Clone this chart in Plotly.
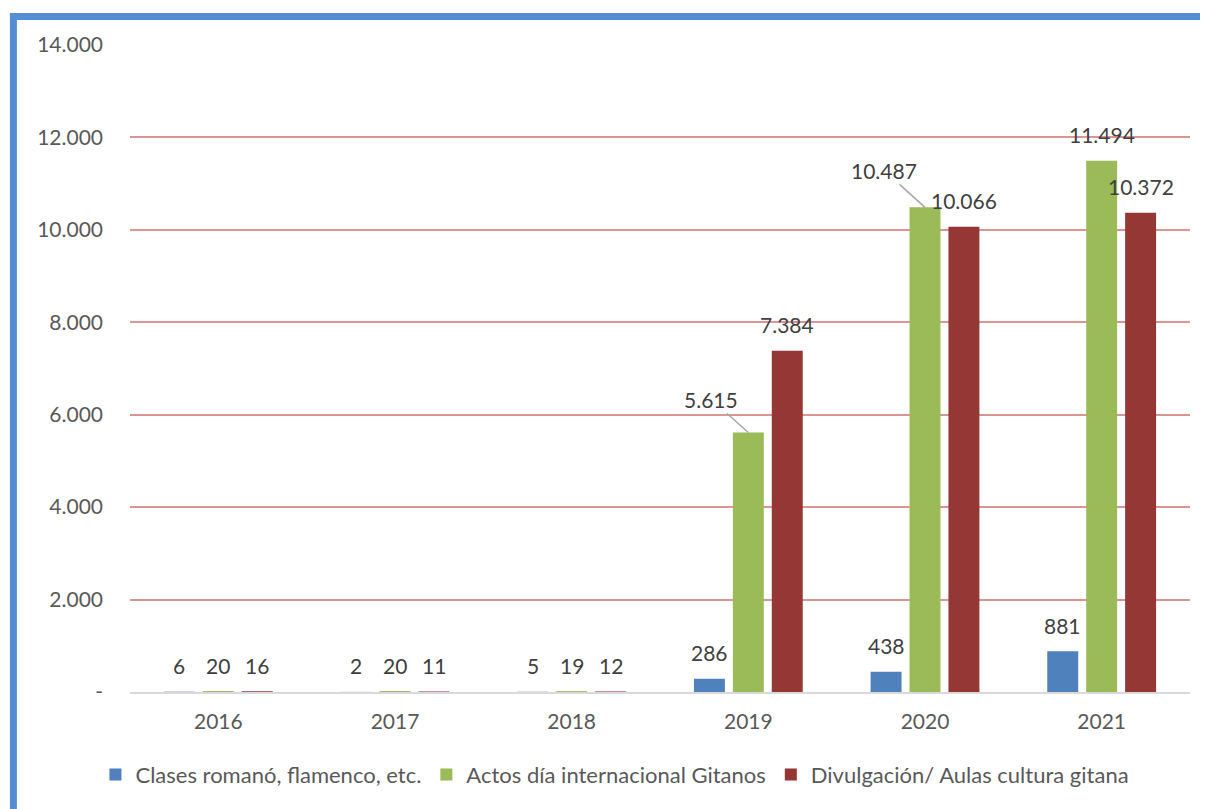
import plotly.graph_objects as go

years = ["2016", "2017", "2018", "2019", "2020", "2021"]
series_names = ["Clases romanó, flamenco, etc.",
                "Actos día internacional Gitanos",
                "Divulgación/ Aulas cultura gitana"]
clases = [6, 2, 5, 286, 438, 881]
actos = [20, 20, 19, 5615, 10487, 11494]
divulgacion = [16, 11, 12, 7384, 10066, 10372]
tick_vals = [0, 2000, 4000, 6000, 8000, 10000, 12000, 14000]
tick_text = ["-", "2.000", "4.000", "6.000", "8.000", "10.000", "12.000", "14.000"]

colors = ["#4F81BD", "#9BBB59", "#953735"]
all_series = [clases, actos, divulgacion]
FONT = "Lato"
TXT = "#595959"

def fmt(v):
    return f"{v:,}".replace(",", ".")

fig = go.Figure()
for name, vals, col in zip(series_names, all_series, colors):
    fig.add_trace(go.Bar(x=years, y=vals, name=name,
                         marker=dict(color=col, line=dict(width=0.02, color=col))))

# data labels (category axis: annotations use category index)
shifts = [-39, 0, 39]
arrow_labels = {("2019", 1): (-37, -33), ("2020", 1): (-41, -37)}
for si, vals in enumerate(all_series):
    for ci, (yr, v) in enumerate(zip(years, vals)):
        key = (yr, si)
        if key in arrow_labels:
            ax, ay = arrow_labels[key]
            fig.add_annotation(x=ci, y=v, text=fmt(v), showarrow=True, arrowhead=0,
                               arrowwidth=1.5, arrowcolor="#A6A6A6", ax=ax, ay=ay,
                               xshift=shifts[si], standoff=0,
                               font=dict(family=FONT, size=21, color="#404040"))
        else:
            fig.add_annotation(x=ci, y=v, text=fmt(v), showarrow=False,
                               xshift=shifts[si], yshift=26, yanchor="middle",
                               font=dict(family=FONT, size=21, color="#404040"))

# blue frame (left and top edges)
fig.add_shape(type="rect", xref="paper", yref="paper",
              x0=-0.110, x1=1.5, y0=-0.6, y1=1.044,
              line=dict(color="#558ED5", width=7), fillcolor="rgba(0,0,0,0)", layer="below")

fig.update_layout(
    width=1200, height=801,
    margin=dict(l=122, r=18, t=37, b=117),
    paper_bgcolor="white", plot_bgcolor="white",
    barmode="group", bargap=0.339, bargroupgap=0.205,
    font=dict(family=FONT, size=20, color=TXT),
    showlegend=True,
    legend=dict(orientation="h", x=0.4575, xanchor="center", y=-0.128, yanchor="middle",
                font=dict(family=FONT, size=22, color=TXT), itemclick=False),
    xaxis=dict(type="category", range=[-0.5, len(years) - 0.5], showgrid=False,
               showline=True, linecolor="#D9D9D9", linewidth=2, layer="above traces",
               ticks="", tickfont=dict(family=FONT, size=21, color=TXT), ticklabelstandoff=10),
    yaxis=dict(range=[0, 14000], tickvals=tick_vals, ticktext=tick_text,
               showgrid=True, gridcolor="#D99694", gridwidth=1.5, zeroline=False,
               showline=False, ticks="", tickfont=dict(family=FONT, size=21, color=TXT),
               ticklabelstandoff=26),
)
fig.write_html("out.html")
